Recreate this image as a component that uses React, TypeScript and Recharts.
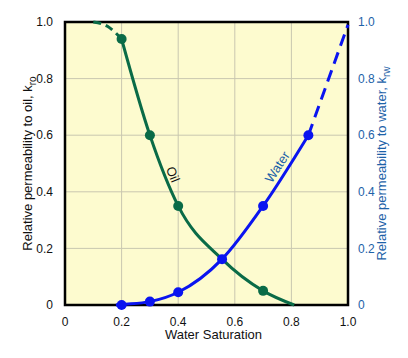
import React from 'react'
import {
  ComposedChart,
  Line,
  Scatter,
  XAxis,
  YAxis,
  CartesianGrid,
  ReferenceArea,
  ReferenceDot
} from 'recharts'

// 수포화도 축 눈금
const satTicks = [0, 0.2, 0.4, 0.6, 0.8, 1.0]

// 오일 곡선 (실선 / 점선 구간)
const oilSat = [0.2, 0.3, 0.4, 0.555, 0.7, 0.81]
const oilKro = [0.94, 0.6, 0.35, 0.162, 0.05, 0]
const oilDashSat = [0.1, 0.15, 0.2]
const oilDashKro = [1.0, 0.985, 0.94]
const oilMarkSat = [0.2, 0.3, 0.4, 0.7]
const oilMarkKro = [0.94, 0.6, 0.35, 0.05]

// 물 곡선
const waterSat = [0.18, 0.2, 0.3, 0.4, 0.555, 0.7, 0.86]
const waterKrw = [0, 0.002, 0.012, 0.045, 0.162, 0.35, 0.6]
const waterDashSat = [0.86, 1.0]
const waterDashKrw = [0.6, 0.99]
const waterMarkSat = [0.2, 0.3, 0.4, 0.555, 0.7, 0.86]
const waterMarkKrw = [0, 0.012, 0.045, 0.162, 0.35, 0.6]

const GREEN = '#0a6b47'
const BLUE = '#0a14f0'
const LABEL_BLUE = '#1d62a8'
const FONT = 'Liberation Sans, Arial, sans-serif'

const zip = (xs: number[], ys: number[]) => xs.map((x, i) => ({ x, y: ys[i] }))

const fmt = (v: number) => (v === 0 ? '0' : v.toFixed(1))

const LeftTitle = (props: any) => {
  const { viewBox } = props
  const cx = 32
  const cy = viewBox.y + viewBox.height / 2
  return (
    <text x={cx} y={cy} transform={`rotate(-90 ${cx} ${cy})`} textAnchor="middle" fontSize={13} fill="#111" fontFamily={FONT}>
      Relative permeability to oil, k<tspan dy={4} fontSize={10}>ro</tspan>
    </text>
  )
}

const RightTitle = (props: any) => {
  const { viewBox } = props
  const cx = 386
  const cy = viewBox.y + viewBox.height / 2
  return (
    <text x={cx} y={cy} transform={`rotate(-90 ${cx} ${cy})`} textAnchor="middle" fontSize={13} fill={LABEL_BLUE} fontFamily={FONT}>
      Relative permeability to water, k<tspan dy={4} fontSize={10}>rw</tspan>
    </text>
  )
}

const BottomTitle = (props: any) => {
  const { viewBox } = props
  const cx = viewBox.x + viewBox.width / 2 + 7
  return (
    <text x={cx} y={339} textAnchor="middle" fontSize={13} fill="#111" fontFamily={FONT}>
      Water Saturation
    </text>
  )
}

const curveText = (text: string, angle: number, color: string) => (props: any) => (
  <text
    x={props.cx}
    y={props.cy}
    transform={`rotate(${angle} ${props.cx} ${props.cy})`}
    textAnchor="middle"
    dominantBaseline="middle"
    fontSize={13}
    fill={color}
    fontFamily={FONT}
  >
    {text}
  </text>
)

export default function App() {
  return (
    <div style={{ position: 'absolute', left: 0, top: 0, width: 408, height: 358, background: '#fff' }}>
      <ComposedChart width={408} height={358} margin={{ top: 22, right: 0, bottom: 0, left: 0 }}>
        <CartesianGrid
          fill="#fdfbcf"
          stroke="#c9c7b0"
          strokeWidth={1}
          horizontalValues={satTicks}
          verticalValues={satTicks}
          yAxisId="left"
        />
        <XAxis
          type="number"
          dataKey="x"
          domain={[0, 1]}
          ticks={satTicks}
          tickFormatter={fmt}
          height={53}
          axisLine={false}
          tickLine={false}
          tick={{ fontSize: 12, fill: '#111', fontFamily: FONT }}
          tickMargin={6}
          label={<BottomTitle />}
        />
        <YAxis
          yAxisId="left"
          type="number"
          domain={[0, 1]}
          ticks={satTicks}
          tickFormatter={fmt}
          width={65}
          axisLine={false}
          tickLine={false}
          tick={{ fontSize: 12, fill: '#111', fontFamily: FONT }}
          tickMargin={6}
          label={<LeftTitle />}
        />
        <YAxis
          yAxisId="right"
          orientation="right"
          type="number"
          domain={[0, 1]}
          ticks={satTicks}
          tickFormatter={fmt}
          width={60}
          axisLine={false}
          tickLine={false}
          tick={{ fontSize: 12, fill: LABEL_BLUE, fontFamily: FONT }}
          tickMargin={4}
          label={<RightTitle />}
        />

        {/* 오일 곡선 */}
        <Line yAxisId="left" data={zip(oilDashSat, oilDashKro)} dataKey="y" type="monotone" stroke={GREEN} strokeWidth={3} strokeDasharray="8 5" dot={false} isAnimationActive={false} />
        <Line yAxisId="left" data={zip(oilSat, oilKro)} dataKey="y" type="monotone" stroke={GREEN} strokeWidth={3} dot={false} isAnimationActive={false} />
        <Scatter yAxisId="left" data={zip(oilMarkSat, oilMarkKro)} dataKey="y" fill={GREEN} shape={(p: any) => <circle cx={p.cx} cy={p.cy} r={5} fill={GREEN} />} isAnimationActive={false} />

        {/* 물 곡선 */}
        <Line yAxisId="right" data={zip(waterSat, waterKrw)} dataKey="y" type="monotone" stroke={BLUE} strokeWidth={3} dot={false} isAnimationActive={false} />
        <Line yAxisId="right" data={zip(waterDashSat, waterDashKrw)} dataKey="y" type="linear" stroke={BLUE} strokeWidth={3} strokeDasharray="12 7" dot={false} isAnimationActive={false} />
        <Scatter yAxisId="right" data={zip(waterMarkSat, waterMarkKrw)} dataKey="y" fill={BLUE} shape={(p: any) => <circle cx={p.cx} cy={p.cy} r={5} fill={BLUE} />} isAnimationActive={false} />

        <ReferenceDot yAxisId="left" x={0.378} y={0.46} r={0} shape={curveText('Oil', 68, '#111')} />
        <ReferenceDot yAxisId="left" x={0.753} y={0.486} r={0} shape={curveText('Water', -57, LABEL_BLUE)} />

        <ReferenceArea yAxisId="left" x1={0} x2={1} y1={0} y2={1} fill="none" stroke="#000" strokeWidth={2.5} fillOpacity={0} />
      </ComposedChart>
    </div>
  )
}
